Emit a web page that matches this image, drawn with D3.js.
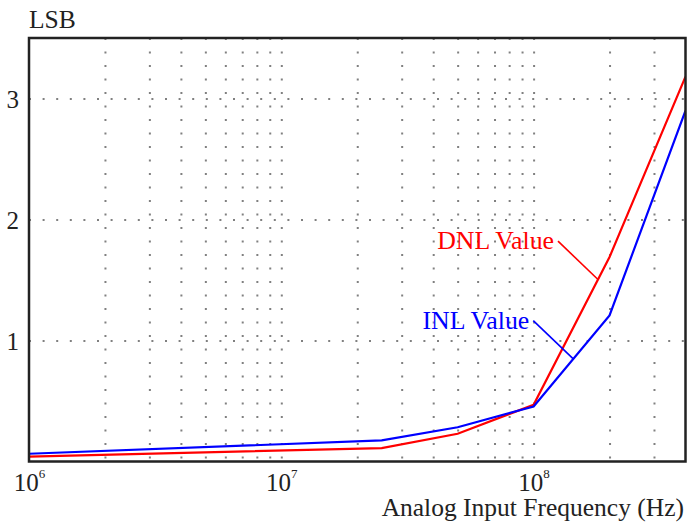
<!DOCTYPE html>
<html>
<head>
<meta charset="utf-8">
<script src="https://cdn.jsdelivr.net/npm/d3@7"></script>
<style>
  html, body { margin: 0; padding: 0; background: #fff; }
  svg { display: block; }
  text { font-family: "Liberation Serif", "Times New Roman", serif; }
</style>
</head>
<body>
<svg id="chart" width="689" height="524"></svg>
<script>
// ---- data ----
const frequencies = [1e6, 2.5e7, 5e7, 1e8, 2e8, 4e8];
const dnlValues   = [0.041, 0.11, 0.229, 0.469, 1.69, 3.18];
const inlValues   = [0.064, 0.174, 0.283, 0.455, 1.207, 2.90];
const xTickExponents = [6, 7, 8];
const yTickValues = [1, 2, 3];
const seriesNames = ["DNL Value", "INL Value"];
const labelFrequencies = [1.8e8, 1.436e8];
const yLabel = "LSB";
const xLabel = "Analog Input Frequency (Hz)";

// ---- layout ----
const svg = d3.select("#chart");
const L = 29, R = 685.5, T = 38, B = 461.5;

const x = d3.scaleLog().domain([1e6, 4e8]).range([L, R]);
const y = d3.scaleLinear().domain([0, 3.5]).range([B, T]);

// minor grid positions: 2..9 per decade plus decades
const gridX = [];
for (let e = 6; e <= 8; e++) {
  for (let m = 1; m <= 9; m++) {
    const v = m * Math.pow(10, e);
    if (v > 1e6 && v < 4e8) gridX.push(v);
  }
}

// vertical dotted grid
const gv = svg.append("g")
  .attr("transform", `translate(0,${T})`)
  .call(d3.axisTop(x).tickValues(gridX).tickSize(-(B - T)).tickFormat(""));
gv.select(".domain").remove();
gv.selectAll("line")
  .attr("stroke", "#808080").attr("stroke-width", 2)
  .attr("stroke-dasharray", "2,11.5");

// horizontal dotted grid
const gh = svg.append("g")
  .attr("transform", `translate(${L},0)`)
  .call(d3.axisLeft(y).tickValues(yTickValues).tickSize(-(R - L)).tickFormat(""));
gh.select(".domain").remove();
gh.selectAll("line")
  .attr("stroke", "#808080").attr("stroke-width", 2)
  .attr("stroke-dasharray", "2,11.6");

// lines
const line = d3.line().x(d => x(d[0])).y(d => y(d[1]));
const series = [
  { name: seriesNames[0], values: dnlValues, color: "#ff0000", lf: labelFrequencies[0] },
  { name: seriesNames[1], values: inlValues, color: "#0000ff", lf: labelFrequencies[1] }
];

svg.append("clipPath").attr("id", "clip")
  .append("rect").attr("x", L).attr("y", T).attr("width", R - L).attr("height", B - T);

series.forEach(s => {
  svg.append("path")
    .datum(frequencies.map((f, i) => [f, s.values[i]]))
    .attr("d", line)
    .attr("fill", "none")
    .attr("stroke", s.color)
    .attr("stroke-width", 2.2)
    .attr("stroke-linejoin", "miter")
    .attr("clip-path", "url(#clip)");
});

// annotations (value interpolated from series in log-x space)
function interp(f, vals) {
  for (let i = 0; i < frequencies.length - 1; i++) {
    const a = frequencies[i], b = frequencies[i + 1];
    if (f >= a && f <= b) {
      const t = (Math.log10(f) - Math.log10(a)) / (Math.log10(b) - Math.log10(a));
      return vals[i] + t * (vals[i + 1] - vals[i]);
    }
  }
  return vals[vals.length - 1];
}
series.forEach(s => {
  const ax = x(s.lf), ay = y(interp(s.lf, s.values));
  const sx = ax - 40, sy = ay - 38.3;
  svg.append("line")
    .attr("x1", sx).attr("y1", sy).attr("x2", ax).attr("y2", ay)
    .attr("stroke", s.color).attr("stroke-width", 1.6);
  svg.append("text")
    .attr("x", sx - 4).attr("y", sy + 8.3)
    .attr("text-anchor", "end")
    .attr("font-size", 25.8)
    .attr("fill", s.color)
    .text(s.name);
});

// frame
svg.append("rect")
  .attr("x", L).attr("y", T).attr("width", R - L).attr("height", B - T)
  .attr("fill", "none").attr("stroke", "#222").attr("stroke-width", 2.5);

// x tick labels
const xl = svg.append("g")
  .attr("transform", `translate(0,${B})`)
  .call(d3.axisBottom(x).tickValues(xTickExponents.map(e => Math.pow(10, e))).tickSize(0).tickFormat(""));
xl.select(".domain").remove();
xl.selectAll(".tick").each(function(d, i) {
  const t = d3.select(this).append("text")
    .attr("y", 29)
    .attr("text-anchor", "middle")
    .attr("font-size", 25)
    .attr("fill", "#222");
  t.append("tspan").text("10");
  t.append("tspan").attr("dy", -13).attr("font-size", 13).text(xTickExponents[i]);
});

// y tick labels
const yl = svg.append("g")
  .attr("transform", `translate(${L},0)`)
  .call(d3.axisLeft(y).tickValues(yTickValues).tickSize(0).tickFormat(""));
yl.select(".domain").remove();
yl.selectAll(".tick").append("text")
  .attr("x", -10).attr("y", 8.5)
  .attr("text-anchor", "end")
  .attr("font-size", 25)
  .attr("fill", "#222")
  .text(d => d);

// axis titles
svg.append("text").attr("x", 29).attr("y", 28)
  .attr("font-size", 25.5).attr("fill", "#222").text(yLabel);
svg.append("text").attr("x", 684).attr("y", 516)
  .attr("text-anchor", "end")
  .attr("font-size", 25.5).attr("fill", "#222").text(xLabel);
</script>
</body>
</html>
